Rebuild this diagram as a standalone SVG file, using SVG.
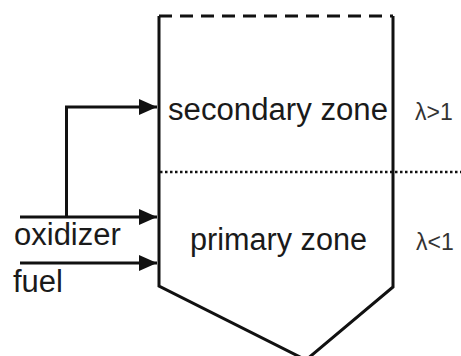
<svg xmlns="http://www.w3.org/2000/svg" width="461" height="356" viewBox="0 0 461 356">
<style>
.ln{fill:none;stroke:#111;stroke-width:3}
.t{font-family:"Liberation Sans",Arial,sans-serif;font-size:31px;fill:#1a1a1a}
.s{font-family:"Liberation Sans",Arial,sans-serif;font-size:23px;fill:#333}
</style>
<defs>
<marker id="ah" viewBox="0 0 18 16" refX="18" refY="8" markerWidth="18" markerHeight="16" markerUnits="userSpaceOnUse" orient="auto">
<path d="M0,0 L18,8 L0,16 Z" fill="#111"/>
</marker>
</defs>
<g id="reactor">
<path class="ln" d="M159,16 L159,286 L306,360 L393,287 L393,16"/>
<line class="ln" x1="159" y1="16" x2="393" y2="16" stroke-dasharray="13 8"/>
</g>
<g id="divider">
<line x1="160" y1="172" x2="461" y2="172" stroke="#111" stroke-width="2.5" stroke-dasharray="2.5 2.5"/>
</g>
<g id="secondary-zone">
<text class="t" x="168" y="120" textLength="220" lengthAdjust="spacingAndGlyphs">secondary zone</text>
<text class="s" x="415" y="120">λ&gt;1</text>
</g>
<g id="primary-zone">
<text class="t" x="190" y="250" textLength="177" lengthAdjust="spacingAndGlyphs">primary zone</text>
<text class="s" x="416" y="250">λ&lt;1</text>
</g>
<g id="oxidizer">
<text class="t" x="14" y="245">oxidizer</text>
</g>
<g id="fuel">
<text class="t" x="13" y="292">fuel</text>
</g>
<g id="connectors">
<path class="ln" d="M20,217 L157,217" marker-end="url(#ah)"/>
<path class="ln" d="M66.5,217 L66.5,107 L157,107" marker-end="url(#ah)"/>
<path class="ln" d="M20,263 L157,263" marker-end="url(#ah)"/>
</g>
</svg>
